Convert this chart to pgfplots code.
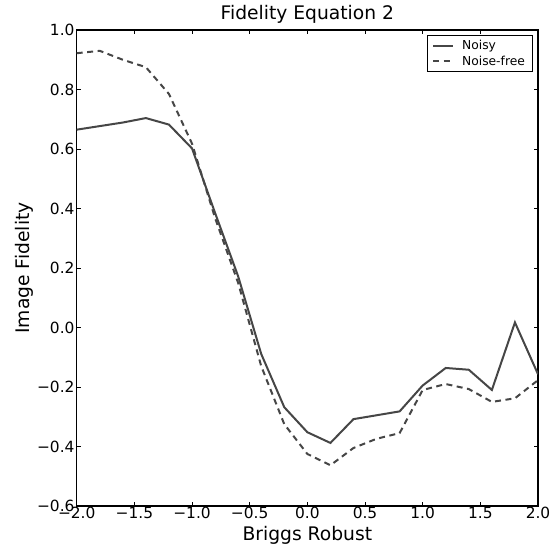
\documentclass[border=0pt]{standalone}
\usepackage{fontspec}
\setmainfont{DejaVu Sans}
\usepackage{pgfplots}
\pgfplotsset{compat=1.18}
\definecolor{lc}{RGB}{70,70,70}
\begin{document}
\begin{tikzpicture}
\path[use as bounding box] (-76.7pt,-44pt) rectangle (479.3pt,506pt);
\begin{axis}[
  at={(0pt,0pt)}, anchor=south west,
  scale only axis,
  width=461.3pt, height=476pt,
  xmin=-2, xmax=2, ymin=-0.6, ymax=1.0,
  xtick={-2,-1.5,...,2},
  xticklabels={−2.0,−1.5,−1.0,−0.5,0.0,0.5,1.0,1.5,2.0},
  ytick={-0.6,-0.4,...,1.0},
  yticklabels={−0.6,−0.4,−0.2,0.0,0.2,0.4,0.6,0.8,1.0},
  tick align=inside,
  major tick length=4pt,
  tick style={black, line width=0.9pt},
  axis line style={black, line width=1.1pt},
  ticklabel style={font=\fontsize{15.4}{17}\selectfont},
  xticklabel style={yshift=2pt},
  yticklabel style={xshift=1.3pt},
  xlabel={Briggs Robust},
  ylabel={Image Fidelity},
  label style={font=\fontsize{18.7}{20}\selectfont},
  xlabel style={at={(axis description cs:0.5,-0.062)}, anchor=center},
  ylabel style={at={(axis description cs:-0.113,0.5)}, anchor=center, rotate=0},
  title={Fidelity Equation 2},
  title style={font=\fontsize{18.7}{20}\selectfont, at={(axis description cs:0.5,1)}, anchor=base, yshift=5pt},
  legend style={at={(0.9877,0.9895)}, anchor=north east, draw=black, line width=0.8pt,
    font=\fontsize{12.3}{14}\selectfont, row sep=0.5pt, column sep=6pt, inner xsep=5pt, inner ysep=3pt},
  legend cell align=left,
  legend image code/.code={\draw[#1] (0pt,0pt) -- (20pt,0pt);},
]
\addplot[lc, line width=2pt] coordinates {
(-2.0,0.665) (-1.8,0.677) (-1.6,0.689) (-1.4,0.704) (-1.2,0.682) (-1.0,0.602)
(-0.8,0.385) (-0.6,0.172) (-0.4,-0.089) (-0.2,-0.268) (0.0,-0.352) (0.2,-0.388)
(0.4,-0.308) (0.6,-0.295) (0.8,-0.282) (1.0,-0.195) (1.2,-0.136) (1.4,-0.142)
(1.6,-0.210) (1.8,0.017) (2.0,-0.157)
};
\addlegendentry{Noisy}
\addplot[lc, line width=2pt, dash pattern=on 6pt off 4.5pt] coordinates {
(-2.0,0.922) (-1.8,0.930) (-1.6,0.900) (-1.4,0.875) (-1.2,0.785) (-1.0,0.618)
(-0.8,0.368) (-0.6,0.150) (-0.4,-0.130) (-0.2,-0.325) (0.0,-0.425) (0.2,-0.463)
(0.4,-0.405) (0.6,-0.374) (0.8,-0.355) (1.0,-0.210) (1.2,-0.190) (1.4,-0.207)
(1.6,-0.250) (1.8,-0.238) (2.0,-0.177)
};
\addlegendentry{Noise-free}
\end{axis}
\end{tikzpicture}
\end{document}
